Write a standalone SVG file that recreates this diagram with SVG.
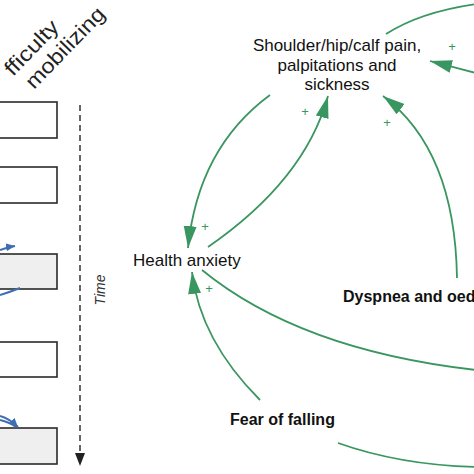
<svg xmlns="http://www.w3.org/2000/svg" width="474" height="474" viewBox="0 0 474 474">
<style>
.box{stroke:#2a2a2a;stroke-width:1.6}
.hdr{font-family:"Liberation Sans",Arial,sans-serif;font-size:21px;fill:#222}
.lbl{font-family:"Liberation Sans",Arial,sans-serif;font-size:17px;fill:#111}
.bold{font-family:"Liberation Sans",Arial,sans-serif;font-size:16px;font-weight:bold;fill:#111}
.link{fill:none;stroke:#3a9660;stroke-width:1.8}
.plus{font-family:"Liberation Sans",Arial,sans-serif;font-size:13px;fill:#3a9660;text-anchor:middle}
.blue{fill:none;stroke:#3d6fb0;stroke-width:2}
</style>
<defs>
<marker id="ah" markerUnits="userSpaceOnUse" markerWidth="24" markerHeight="14" refX="22" refY="6.5" orient="auto">
<path d="M0,0 L22,6.5 L0,13 Z" fill="#3a9660"/>
</marker>
<marker id="bh" markerUnits="userSpaceOnUse" markerWidth="10" markerHeight="10" refX="9" refY="4" orient="auto">
<path d="M0,0 L9,4 L0,8 Z" fill="#3d6fb0"/>
</marker>
</defs>
<g id="timeline">
<text class="hdr" transform="translate(13,77) rotate(-46)" font-size="19" textLength="68" lengthAdjust="spacingAndGlyphs">fficulty</text>
<text class="hdr" transform="translate(34,90) rotate(-46)" textLength="104" lengthAdjust="spacingAndGlyphs">mobilizing</text>
<rect class="box" x="-2" y="102" width="59" height="36" fill="#fff"/>
<rect class="box" x="-2" y="167" width="59" height="36" fill="#fff"/>
<rect class="box" x="-2" y="254" width="59" height="35" fill="#efefef"/>
<rect class="box" x="-2" y="342" width="59" height="35" fill="#fff"/>
<rect class="box" x="-2" y="428" width="59" height="36" fill="#efefef"/>
<path class="blue" d="M0,250 Q8,247 15,246" marker-end="url(#bh)"/>
<path class="blue" d="M0,295 Q10,292 20,288"/>
<path class="blue" d="M0,416 Q10,419 18,427" marker-end="url(#bh)"/>
<path class="blue" d="M0,420 Q9,422 16,427"/>
<line x1="80" y1="105" x2="80" y2="453" stroke="#333" stroke-width="1.5" stroke-dasharray="6,4"/>
<path d="M75,453 L85,453 L80,466 Z" fill="#222"/>
<text transform="translate(105,290) rotate(-90)" text-anchor="middle" font-family="Liberation Sans,Arial,sans-serif" font-size="14" font-style="italic" fill="#333">Time</text>
</g>
<g id="connectors">
<path class="link" d="M270,95 Q198,148 188,248" marker-end="url(#ah)"/>
<path class="link" d="M208,247 Q305,180 328,96" marker-end="url(#ah)"/>
<path class="link" d="M260,400 Q200,340 192,272" marker-end="url(#ah)"/>
<path class="link" d="M202,270 Q300,350 476,370"/>
<path class="link" d="M338,443 Q400,465 476,467"/>
<path class="link" d="M386,34 Q420,12 476,4"/>
<path class="link" d="M476,73 L430,61" marker-end="url(#ah)"/>
<path class="link" d="M457,278 Q455,150 383,96" marker-end="url(#ah)"/>
<text class="plus" x="205" y="231">+</text>
<text class="plus" x="305" y="116">+</text>
<text class="plus" x="209" y="293">+</text>
<text class="plus" x="452" y="51">+</text>
<text class="plus" x="387" y="127">+</text>
</g>
<g id="node-shoulder">
<text class="lbl" text-anchor="middle" x="337" y="51">Shoulder/hip/calf pain,</text>
<text class="lbl" text-anchor="middle" x="337" y="71">palpitations and</text>
<text class="lbl" text-anchor="middle" x="337" y="90">sickness</text>
</g>
<g id="node-health">
<text class="lbl" x="133" y="266">Health anxiety</text>
</g>
<g id="node-dyspnea">
<text class="bold" x="343" y="302">Dyspnea and oed</text>
</g>
<g id="node-fear">
<text class="bold" x="230" y="425">Fear of falling</text>
</g>
</svg>
